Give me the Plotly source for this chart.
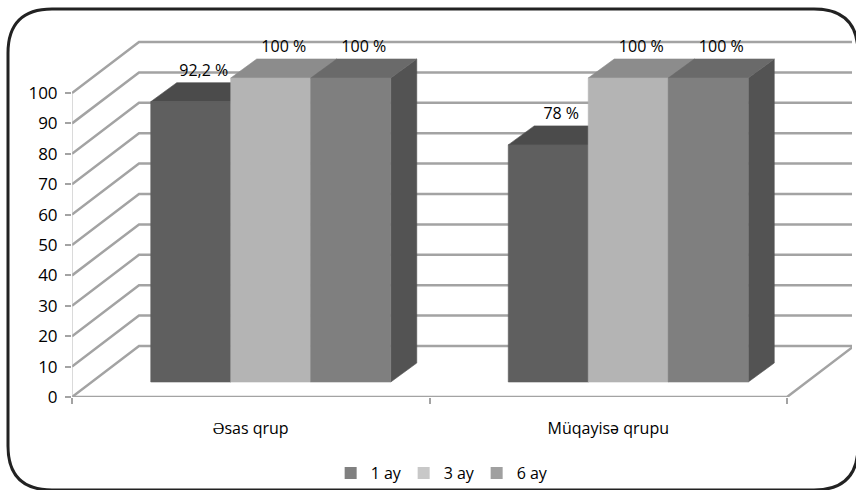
import plotly.graph_objects as go

# ---- data -------------------------------------------------------------
categories = ["Əsas qrup", "Müqayisə qrupu"]
series_names = ["1 ay", "3 ay", "6 ay"]
values_1ay = [92.2, 78]
values_3ay = [100, 100]
values_6ay = [100, 100]
y_ticks = list(range(0, 101, 10))

# ---- styling ----------------------------------------------------------
front_colors = ["#5f5f5f", "#b4b4b4", "#7f7f7f"]
top_colors = ["#4b4b4b", "#8c8c8c", "#6a6a6a"]
side_colors = ["#474747", "#8a8a8a", "#535353"]
legend_colors = ["#808080", "#c8c8c8", "#a0a0a0"]
grid_color = "#a3a3a3"
FONT = "Open Sans"

W, H = 856, 490
ML, MR, MT, MB = 72, 4, 20, 93
SLOT_PX = 357.5       # pixels per category slot on the front plane
UNIT_PX = 3.04        # pixels per value unit
x_max = (W - ML - MR) / SLOT_PX
y_max = (H - MT - MB) / UNIT_PX

# pseudo-3D depth vectors (converted from pixels to axis units)
WALL_DX, WALL_DV = 67 / SLOT_PX, 51 / UNIT_PX
BAR_OX, BAR_OV = 20 / SLOT_PX, 15 / UNIT_PX
BAR_DX, BAR_DV = 26 / SLOT_PX, 19 / UNIT_PX
BAR_W = 80 / SLOT_PX

series_values = [values_1ay, values_3ay, values_6ay]
n_series = len(series_values)

fig = go.Figure()

# back wall / side wall gridlines
for v in y_ticks:
    fig.add_trace(go.Scatter(
        x=[0, WALL_DX, x_max], y=[v, v + WALL_DV, v + WALL_DV],
        mode="lines", line=dict(color=grid_color, width=2.5),
        hoverinfo="skip", showlegend=False, cliponaxis=False))

# floor edges
n_cat = len(categories)
fig.add_trace(go.Scatter(
    x=[0, n_cat, n_cat + WALL_DX], y=[0, 0, WALL_DV],
    mode="lines", line=dict(color=grid_color, width=2.5),
    hoverinfo="skip", showlegend=False, cliponaxis=False))
# vertical axis line
fig.add_trace(go.Scatter(
    x=[0, 0], y=[0, y_ticks[-1]], mode="lines",
    line=dict(color="#b5b5b5", width=1),
    hoverinfo="skip", showlegend=False, cliponaxis=False))


def face(xs, ys, color):
    fig.add_trace(go.Scatter(
        x=xs + [xs[0]], y=ys + [ys[0]], mode="lines", fill="toself",
        fillcolor=color, line=dict(color=color, width=0.6),
        hoverinfo="skip", showlegend=False, cliponaxis=False))


label_x, label_y, label_t = [], [], []
for ci in range(n_cat):
    center = ci + 0.5 + BAR_OX
    for si in range(n_series):
        val = series_values[si][ci]
        xl = center - n_series * BAR_W / 2 + si * BAR_W
        xr = xl + BAR_W
        yb = BAR_OV
        yt = BAR_OV + val
        # right side face
        face([xr, xr + BAR_DX, xr + BAR_DX, xr],
             [yb, yb + BAR_DV, yt + BAR_DV, yt], side_colors[si])
        # top face
        face([xl, xr, xr + BAR_DX, xl + BAR_DX],
             [yt, yt, yt + BAR_DV, yt + BAR_DV], top_colors[si])
        # front face
        face([xl, xr, xr, xl], [yb, yb, yt, yt], front_colors[si])
        label_x.append((xl + xr) / 2 + BAR_DX / 2)
        label_y.append(yt + BAR_DV + 1.0)
        label_t.append(f"{val:g}".replace(".", ",") + " %")

fig.add_trace(go.Scatter(
    x=label_x, y=label_y, text=label_t, mode="text",
    textposition="top center",
    textfont=dict(family=FONT, size=16, color="#000000"),
    hoverinfo="skip", showlegend=False, cliponaxis=False))

# legend entries
for name, col in zip(series_names, legend_colors):
    fig.add_trace(go.Bar(x=[None], y=[None], name=name,
                         marker=dict(color=col, line=dict(width=0))))


# rounded outer frame
def to_paper(xp, yp):
    return ((xp - ML) / (W - ML - MR), (H - MB - yp) / (H - MT - MB))


L, R, T, B, r = 8, 858, 9, 490, 44
pts = [("M", [(L, T + r)]), ("Q", [(L, T), (L + r, T)]), ("L", [(R - r, T)]),
       ("Q", [(R, T), (R, T + r)]), ("L", [(R, B - r)]),
       ("Q", [(R, B), (R - r, B)]), ("L", [(L + r, B)]),
       ("Q", [(L, B), (L, B - r)])]
path = ""
for cmd, coords in pts:
    path += cmd + " ".join(
        "{:.5f},{:.5f}".format(*to_paper(a, b)) for a, b in coords) + " "
path += "Z"

fig.add_shape(type="path", path=path, xref="paper", yref="paper",
              line=dict(color="#222222", width=3), layer="above")

fig.update_layout(
    width=W, height=H,
    margin=dict(l=ML, r=MR, t=MT, b=MB, autoexpand=False),
    paper_bgcolor="white", plot_bgcolor="white",
    font=dict(family=FONT, size=16, color="#000000"),
    showlegend=True,
    legend=dict(orientation="h", x=0.472, xanchor="center",
                y=(397 - 473) / (H - MT - MB), yanchor="middle",
                font=dict(family=FONT, size=16),
                entrywidth=28, entrywidthmode="pixels",
                bgcolor="rgba(0,0,0,0)"),
    xaxis=dict(range=[0, x_max], showgrid=False, zeroline=False,
               showline=False, tickmode="array",
               tickvals=[i + 0.5 for i in range(n_cat)], ticktext=categories,
               ticks="", ticklabelstandoff=20,
               tickfont=dict(family=FONT, size=16),
               minor=dict(tickmode="array",
                          tickvals=list(range(n_cat + 1)),
                          ticks="outside", ticklen=6, tickwidth=2,
                          tickcolor=grid_color, showgrid=False),
               fixedrange=True),
    yaxis=dict(range=[0, y_max], showgrid=False, zeroline=False,
               showline=False, tickmode="array", tickvals=y_ticks,
               ticks="outside", ticklen=6, tickwidth=2, tickcolor=grid_color,
               ticklabelstandoff=4,
               tickfont=dict(family=FONT, size=17), fixedrange=True),
)

fig.write_html("out.html")
